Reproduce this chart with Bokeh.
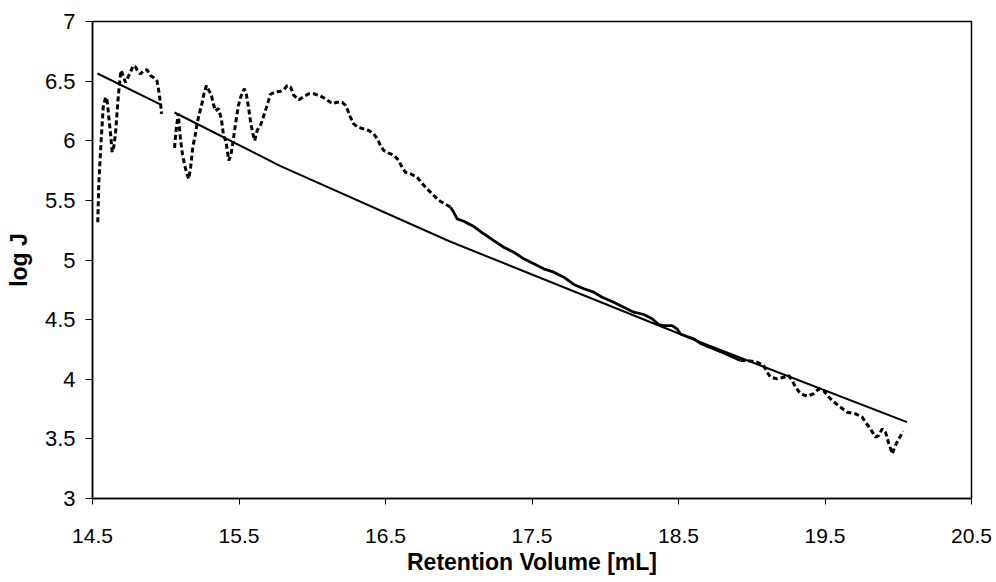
import math
from bokeh.plotting import figure
from bokeh.models import Range1d, FixedTicker
from bokeh.embed import file_html
from bokeh.resources import INLINE

NaN = float("nan")

# Measured log J against retention volume (a break in the record near 15.0 mL)
volume_ml = [
    14.536, 14.543, 14.559, 14.573, 14.589, 14.600, 14.611, 14.623, 14.634, 14.645,
    14.657, 14.672, 14.686, 14.695, 14.709, 14.725, 14.741, 14.759, 14.778, 14.793,
    14.810, 14.828, 14.850, 14.873, 14.896, 14.918, 14.941, 14.952, 14.964, 14.971,
    NaN,
    15.060, 15.070, 15.085, 15.100, 15.115, 15.130, 15.145, 15.157, 15.170, 15.185,
    15.200, 15.215, 15.230, 15.245, 15.262, 15.278, 15.295, 15.310, 15.325, 15.339,
    15.360, 15.380, 15.395, 15.410, 15.420, 15.430, 15.445, 15.460, 15.475, 15.495,
    15.510, 15.525, 15.537, 15.550, 15.565, 15.580, 15.595, 15.607, 15.624, 15.650,
    15.680, 15.715, 15.749, 15.783, 15.806, 15.829, 15.852, 15.874, 15.908, 15.942,
    15.977, 16.011, 16.045, 16.079, 16.113, 16.136, 16.170, 16.204, 16.227, 16.243,
    16.260, 16.283, 16.310, 16.350, 16.386, 16.420, 16.447, 16.466, 16.488, 16.522,
    16.561, 16.590, 16.613, 16.636, 16.670, 16.716, 16.743, 16.773, 16.807, 16.841,
    16.864, 16.944, 16.966, 16.989, 17.034, 17.103, 17.171, 17.239, 17.307, 17.376,
    17.444, 17.512, 17.580, 17.649, 17.717, 17.785, 17.854, 17.922, 17.979, 18.058,
    18.126, 18.195, 18.263, 18.320, 18.365, 18.399, 18.456, 18.490, 18.514, 18.559,
    18.605, 18.650, 18.720, 18.820, 18.923, 18.970, 19.040, 19.080, 19.105, 19.128,
    19.173, 19.219, 19.253, 19.276, 19.299, 19.333, 19.379, 19.420, 19.458, 19.490,
    19.526, 19.560, 19.606, 19.650, 19.708, 19.754, 19.776, 19.810, 19.845, 19.867,
    19.890, 19.913, 19.936, 19.959, 19.980, 20.004, 20.034,
]
log_j = [
    5.317, 5.640, 6.000, 6.280, 6.365, 6.340, 6.200, 6.060, 5.905, 5.950,
    6.060, 6.310, 6.505, 6.590, 6.547, 6.490, 6.530, 6.575, 6.630, 6.620,
    6.580, 6.560, 6.590, 6.595, 6.547, 6.528, 6.500, 6.420, 6.320, 6.226,
    NaN,
    5.940, 6.080, 6.230, 6.020, 5.880, 5.790, 5.720, 5.680, 5.780, 5.950,
    6.040, 6.150, 6.230, 6.300, 6.400, 6.463, 6.420, 6.390, 6.310, 6.250,
    6.270, 6.180, 6.040, 6.000, 5.920, 5.834, 5.880, 6.000, 6.130, 6.290,
    6.360, 6.410, 6.436, 6.390, 6.280, 6.150, 6.060, 6.000, 6.086, 6.140,
    6.250, 6.390, 6.410, 6.415, 6.427, 6.463, 6.450, 6.380, 6.343, 6.371,
    6.394, 6.394, 6.380, 6.360, 6.332, 6.310, 6.323, 6.323, 6.296, 6.254,
    6.198, 6.142, 6.114, 6.100, 6.086, 6.058, 6.008, 5.960, 5.918, 5.896,
    5.876, 5.834, 5.778, 5.736, 5.723, 5.694, 5.652, 5.610, 5.569, 5.527,
    5.500, 5.443, 5.400, 5.345, 5.325, 5.280, 5.220, 5.163, 5.107, 5.065,
    5.010, 4.968, 4.926, 4.898, 4.856, 4.795, 4.759, 4.730, 4.688, 4.646,
    4.604, 4.562, 4.543, 4.507, 4.459, 4.450, 4.450, 4.423, 4.380, 4.358,
    4.339, 4.300, 4.265, 4.215, 4.157, 4.157, 4.143, 4.115, 4.060, 4.017,
    4.004, 4.017, 4.031, 3.990, 3.933, 3.878, 3.858, 3.878, 3.920, 3.906,
    3.850, 3.810, 3.766, 3.724, 3.710, 3.682, 3.640, 3.584, 3.514, 3.528,
    3.584, 3.556, 3.459, 3.375, 3.444, 3.500, 3.564,
]

# Fitted calibration curve
fit_volume_ml = [14.534, 14.970, NaN, 15.060, 15.780, 16.940, 18.650, 20.060]
fit_log_j = [6.564, 6.300, NaN, 6.237, 5.790, 5.155, 4.310, 3.640]

x_ticks = [14.5, 15.5, 16.5, 17.5, 18.5, 19.5, 20.5]
y_ticks = [3, 3.5, 4, 4.5, 5, 5.5, 6, 6.5, 7]
y_tick_labels = ["3", "3.5", "4", "4.5", "5", "5.5", "6", "6.5", "7"]

FONT = "Liberation Sans"

p = figure(
    width=996, height=582,
    x_range=Range1d(14.5, 20.5), y_range=Range1d(3, 7),
    output_backend="svg", toolbar_location=None,
    min_border_left=92, min_border_right=25,
    min_border_top=21, min_border_bottom=84,
)
p.background_fill_color = "white"
p.border_fill_color = "white"
p.outline_line_color = "black"
p.outline_line_width = 1.5
p.outline_line_alpha = 1.0
p.xgrid.visible = False
p.ygrid.visible = False

for ax in (p.xaxis[0], p.yaxis[0]):
    ax.axis_line_color = "black"
    ax.axis_line_width = 1.5
    ax.major_tick_line_color = "black"
    ax.major_tick_in = 0
    ax.minor_tick_line_color = None
    ax.major_label_text_font = FONT
    ax.major_label_text_color = "black"
    ax.axis_label_text_font = FONT
    ax.axis_label_text_font_style = "bold"
    ax.axis_label_text_color = "black"

p.xaxis.ticker = FixedTicker(ticks=x_ticks)
p.xaxis.major_tick_out = 6
p.xaxis.major_label_text_font_size = "21px"
p.xaxis.major_label_standoff = 24
p.xaxis.axis_label = "Retention Volume [mL]"
p.xaxis.axis_label_text_font_size = "23px"
p.xaxis.axis_label_standoff = 3

p.yaxis.ticker = FixedTicker(ticks=y_ticks)
p.yaxis.major_label_overrides = {t: s for t, s in zip(y_ticks, y_tick_labels)}
p.yaxis.major_tick_out = 7
p.yaxis.major_label_text_font_size = "22px"
p.yaxis.major_label_standoff = 10
p.yaxis.axis_label = "log J"
p.yaxis.axis_label_text_font_size = "23px"
p.yaxis.axis_label_standoff = 10

# Measured trace: dotted where it swings steeply, near-solid where it is dense
def segment(lo, hi):
    xs, ys = [], []
    for v, j in zip(volume_ml, log_j):
        if math.isnan(v) or (lo <= v <= hi):
            xs.append(v)
            ys.append(j)
    return xs, ys

xa, ya = segment(0, 16.944)
xb, yb = segment(16.944, 18.923)
xc, yc = segment(18.923, 99)
p.line(xa, ya, line_color="black", line_width=3, line_dash="5 3")
p.line(xb, yb, line_color="black", line_width=2.8)
p.line(xc, yc, line_color="black", line_width=3, line_dash="5 3")

# Calibration fit
p.line(fit_volume_ml, fit_log_j, line_color="black", line_width=2)

open("out.html", "w").write(file_html(p, INLINE))
